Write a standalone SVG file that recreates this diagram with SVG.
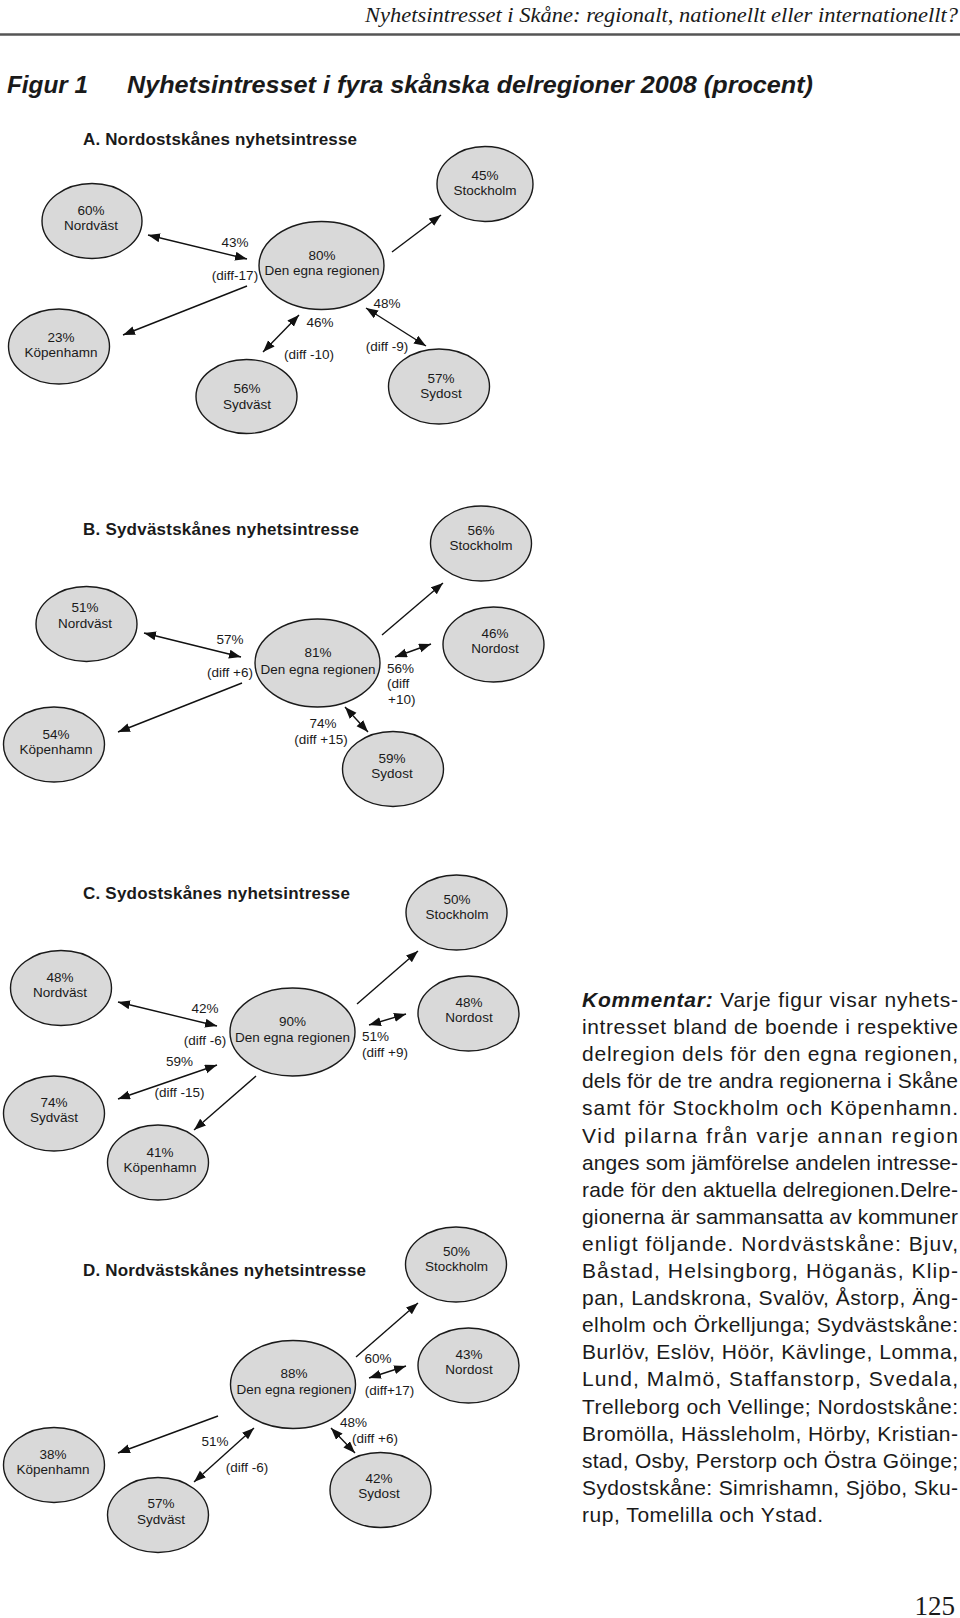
<svg xmlns="http://www.w3.org/2000/svg" width="960" height="1618" viewBox="0 0 960 1618">
<style>
.n{fill:#d9d9d9;stroke:#1a1a1a;stroke-width:1.4}
.t{font-family:"Liberation Sans",Arial,sans-serif;font-size:13.5px;fill:#1a1a1a;text-anchor:middle}
.ls{text-anchor:start}
.c{stroke:#111;stroke-width:1.4;fill:none}
.sec{font-family:"Liberation Sans",Arial,sans-serif;font-size:17px;font-weight:bold;fill:#1a1a1a}
.body{font-family:"Liberation Sans",Arial,sans-serif;font-size:21px;fill:#1a1a1a}
</style>
<defs>
<marker id="ah" markerUnits="userSpaceOnUse" markerWidth="13" markerHeight="10" refX="12" refY="4.5" orient="auto-start-reverse" viewBox="0 0 13 10">
<path d="M0,0 L12,4.5 L0,9 z" fill="#111"/>
</marker>
</defs>
<rect width="960" height="1618" fill="#fff"/>
<g id="header">
<text x="958" y="22" text-anchor="end" textLength="593" lengthAdjust="spacingAndGlyphs" style="font-family:'Liberation Serif','Times New Roman',serif;font-style:italic;font-size:22px;fill:#1a1a1a">Nyhetsintresset i Skåne: regionalt, nationellt eller internationellt?</text>
<line x1="0" y1="34.5" x2="960" y2="34.5" stroke="#555" stroke-width="2.5"/>
<text x="7" y="93" textLength="81" lengthAdjust="spacingAndGlyphs" style="font-family:'Liberation Sans',Arial,sans-serif;font-weight:bold;font-style:italic;font-size:24.5px;fill:#1a1a1a">Figur 1</text>
<text x="127" y="93" textLength="686" lengthAdjust="spacingAndGlyphs" style="font-family:'Liberation Sans',Arial,sans-serif;font-weight:bold;font-style:italic;font-size:24.5px;fill:#1a1a1a">Nyhetsintresset i fyra skånska delregioner 2008 (procent)</text>
</g>

<!-- Section A -->
<text class="sec" x="83" y="145" textLength="274">A. Nordostskånes nyhetsintresse</text>
<g id="A-connectors">
<line class="c" x1="148" y1="235" x2="247" y2="259" marker-start="url(#ah)" marker-end="url(#ah)"/>
<line class="c" x1="247" y1="286" x2="123" y2="335" marker-end="url(#ah)"/>
<line class="c" x1="392" y1="252" x2="441" y2="215" marker-end="url(#ah)"/>
<line class="c" x1="299" y1="315" x2="263" y2="352" marker-start="url(#ah)" marker-end="url(#ah)"/>
<line class="c" x1="366" y1="308" x2="426" y2="346" marker-start="url(#ah)" marker-end="url(#ah)"/>
<text class="t" x="235" y="247">43%</text>
<text class="t" x="235" y="280">(diff-17)</text>
<text class="t" x="320" y="327">46%</text>
<text class="t" x="309" y="359">(diff -10)</text>
<text class="t" x="387" y="308">48%</text>
<text class="t" x="387" y="351">(diff -9)</text>
</g>
<g id="A-nordvast"><ellipse class="n" cx="92" cy="221" rx="50" ry="37.5"/><text class="t" x="91" y="215">60%</text><text class="t" x="91" y="230">Nordväst</text></g>
<g id="A-stockholm"><ellipse class="n" cx="485" cy="184" rx="48" ry="37.5"/><text class="t" x="485" y="180">45%</text><text class="t" x="485" y="195">Stockholm</text></g>
<g id="A-egna"><ellipse class="n" cx="321.5" cy="265.5" rx="62.5" ry="44"/><text class="t" x="322" y="260">80%</text><text class="t" x="322" y="275">Den egna regionen</text></g>
<g id="A-kopenhamn"><ellipse class="n" cx="59" cy="346.5" rx="50.5" ry="37.5"/><text class="t" x="61" y="342">23%</text><text class="t" x="61" y="357">Köpenhamn</text></g>
<g id="A-sydvast"><ellipse class="n" cx="246.5" cy="396.5" rx="50.5" ry="37"/><text class="t" x="247" y="393">56%</text><text class="t" x="247" y="409">Sydväst</text></g>
<g id="A-sydost"><ellipse class="n" cx="439" cy="386.5" rx="50.5" ry="37.5"/><text class="t" x="441" y="383">57%</text><text class="t" x="441" y="398">Sydost</text></g>

<!-- Section B -->
<text class="sec" x="83" y="535" textLength="276">B. Sydvästskånes nyhetsintresse</text>
<g id="B-connectors">
<line class="c" x1="144" y1="633" x2="241" y2="657" marker-start="url(#ah)" marker-end="url(#ah)"/>
<line class="c" x1="242" y1="683" x2="118" y2="732" marker-end="url(#ah)"/>
<line class="c" x1="382" y1="635" x2="443" y2="583" marker-end="url(#ah)"/>
<line class="c" x1="395" y1="657" x2="431" y2="644" marker-start="url(#ah)" marker-end="url(#ah)"/>
<line class="c" x1="345" y1="707" x2="368" y2="732" marker-start="url(#ah)" marker-end="url(#ah)"/>
<text class="t" x="230" y="644">57%</text>
<text class="t" x="230" y="677">(diff +6)</text>
<text class="t ls" x="387" y="673">56%</text>
<text class="t ls" x="387" y="688">(diff</text>
<text class="t ls" x="388" y="704">+10)</text>
<text class="t" x="323" y="728">74%</text>
<text class="t" x="321" y="744">(diff +15)</text>
</g>
<g id="B-stockholm"><ellipse class="n" cx="481" cy="543.5" rx="50.5" ry="37.5"/><text class="t" x="481" y="535">56%</text><text class="t" x="481" y="550">Stockholm</text></g>
<g id="B-nordvast"><ellipse class="n" cx="86.5" cy="624" rx="50.5" ry="37.5"/><text class="t" x="85" y="612">51%</text><text class="t" x="85" y="628">Nordväst</text></g>
<g id="B-nordost"><ellipse class="n" cx="493.5" cy="644.5" rx="50.5" ry="37.5"/><text class="t" x="495" y="638">46%</text><text class="t" x="495" y="653">Nordost</text></g>
<g id="B-egna"><ellipse class="n" cx="317.5" cy="663" rx="62.5" ry="44"/><text class="t" x="318" y="657">81%</text><text class="t" x="318" y="674">Den egna regionen</text></g>
<g id="B-kopenhamn"><ellipse class="n" cx="54" cy="744.5" rx="50.5" ry="37.5"/><text class="t" x="56" y="739">54%</text><text class="t" x="56" y="754">Köpenhamn</text></g>
<g id="B-sydost"><ellipse class="n" cx="393" cy="769" rx="50.5" ry="37.5"/><text class="t" x="392" y="763">59%</text><text class="t" x="392" y="778">Sydost</text></g>

<!-- Section C -->
<text class="sec" x="83" y="899" textLength="267">C. Sydostskånes nyhetsintresse</text>
<g id="C-connectors">
<line class="c" x1="118" y1="1002" x2="217" y2="1026" marker-start="url(#ah)" marker-end="url(#ah)"/>
<line class="c" x1="118" y1="1099" x2="217" y2="1065" marker-start="url(#ah)" marker-end="url(#ah)"/>
<line class="c" x1="256" y1="1076" x2="194" y2="1130" marker-end="url(#ah)"/>
<line class="c" x1="357" y1="1004" x2="418" y2="951" marker-end="url(#ah)"/>
<line class="c" x1="369" y1="1025" x2="406" y2="1014" marker-start="url(#ah)" marker-end="url(#ah)"/>
<text class="t" x="205" y="1013">42%</text>
<text class="t" x="205" y="1045">(diff -6)</text>
<text class="t" x="179.5" y="1066">59%</text>
<text class="t" x="179.5" y="1097">(diff -15)</text>
<text class="t ls" x="362" y="1041">51%</text>
<text class="t ls" x="362" y="1057">(diff +9)</text>
</g>
<g id="C-stockholm"><ellipse class="n" cx="456.5" cy="912.5" rx="50.5" ry="37.5"/><text class="t" x="457" y="904">50%</text><text class="t" x="457" y="919">Stockholm</text></g>
<g id="C-nordvast"><ellipse class="n" cx="61" cy="988" rx="50.5" ry="37.5"/><text class="t" x="60" y="982">48%</text><text class="t" x="60" y="997">Nordväst</text></g>
<g id="C-nordost"><ellipse class="n" cx="468.5" cy="1013.5" rx="50.5" ry="37.5"/><text class="t" x="469" y="1007">48%</text><text class="t" x="469" y="1022">Nordost</text></g>
<g id="C-egna"><ellipse class="n" cx="292.5" cy="1032" rx="62.5" ry="44"/><text class="t" x="292.5" y="1026">90%</text><text class="t" x="292.5" y="1042">Den egna regionen</text></g>
<g id="C-sydvast"><ellipse class="n" cx="54" cy="1113.5" rx="50.5" ry="37.5"/><text class="t" x="54" y="1107">74%</text><text class="t" x="54" y="1122">Sydväst</text></g>
<g id="C-kopenhamn"><ellipse class="n" cx="158" cy="1162.5" rx="50.5" ry="37.5"/><text class="t" x="160" y="1157">41%</text><text class="t" x="160" y="1172">Köpenhamn</text></g>

<!-- Section D -->
<text class="sec" x="83" y="1276" textLength="283">D. Nordvästskånes nyhetsintresse</text>
<g id="D-connectors">
<line class="c" x1="356" y1="1357" x2="418" y2="1303" marker-end="url(#ah)"/>
<line class="c" x1="369" y1="1378" x2="406" y2="1366" marker-start="url(#ah)" marker-end="url(#ah)"/>
<line class="c" x1="218" y1="1416" x2="118" y2="1453" marker-end="url(#ah)"/>
<line class="c" x1="254" y1="1428" x2="194" y2="1482" marker-start="url(#ah)" marker-end="url(#ah)"/>
<line class="c" x1="331" y1="1428" x2="355" y2="1453" marker-start="url(#ah)" marker-end="url(#ah)"/>
<text class="t" x="378" y="1363">60%</text>
<text class="t" x="389.5" y="1395">(diff+17)</text>
<text class="t" x="353.5" y="1427">48%</text>
<text class="t" x="375" y="1443">(diff +6)</text>
<text class="t" x="215" y="1446">51%</text>
<text class="t" x="247" y="1472">(diff -6)</text>
</g>
<g id="D-stockholm"><ellipse class="n" cx="456" cy="1264.5" rx="50.5" ry="37.5"/><text class="t" x="456.5" y="1256">50%</text><text class="t" x="456.5" y="1271">Stockholm</text></g>
<g id="D-nordost"><ellipse class="n" cx="468.5" cy="1365.5" rx="50.5" ry="37.5"/><text class="t" x="469" y="1359">43%</text><text class="t" x="469" y="1374">Nordost</text></g>
<g id="D-egna"><ellipse class="n" cx="293" cy="1384.5" rx="62.5" ry="44"/><text class="t" x="294" y="1378">88%</text><text class="t" x="294" y="1394">Den egna regionen</text></g>
<g id="D-kopenhamn"><ellipse class="n" cx="54" cy="1465" rx="50.5" ry="37.5"/><text class="t" x="53" y="1459">38%</text><text class="t" x="53" y="1474">Köpenhamn</text></g>
<g id="D-sydvast"><ellipse class="n" cx="158" cy="1515" rx="50.5" ry="37.5"/><text class="t" x="161" y="1508">57%</text><text class="t" x="161" y="1524">Sydväst</text></g>
<g id="D-sydost"><ellipse class="n" cx="380.5" cy="1490" rx="50.5" ry="37.5"/><text class="t" x="379" y="1483">42%</text><text class="t" x="379" y="1498">Sydost</text></g>

<!-- Comment -->
<g id="kommentar" class="body">
<text x="582" y="1007" textLength="376" lengthAdjust="spacing"><tspan font-weight="bold" font-style="italic">Kommentar:</tspan> Varje figur visar nyhets-</text>
<text x="582" y="1034.1" textLength="376" lengthAdjust="spacing">intresset bland de boende i respektive</text>
<text x="582" y="1061.2" textLength="376" lengthAdjust="spacing">delregion dels för den egna regionen,</text>
<text x="582" y="1088.3" textLength="376" lengthAdjust="spacing">dels för de tre andra regionerna i Skåne</text>
<text x="582" y="1115.4" textLength="376" lengthAdjust="spacing">samt för Stockholm och Köpenhamn.</text>
<text x="582" y="1142.5" textLength="376" lengthAdjust="spacing">Vid pilarna från varje annan region</text>
<text x="582" y="1169.6" textLength="376" lengthAdjust="spacing">anges som jämförelse andelen intresse-</text>
<text x="582" y="1196.7" textLength="376" lengthAdjust="spacing">rade för den aktuella delregionen.Delre-</text>
<text x="582" y="1223.8" textLength="376" lengthAdjust="spacing">gionerna är sammansatta av kommuner</text>
<text x="582" y="1250.9" textLength="376" lengthAdjust="spacing">enligt följande. Nordvästskåne: Bjuv,</text>
<text x="582" y="1278" textLength="376" lengthAdjust="spacing">Båstad, Helsingborg, Höganäs, Klip-</text>
<text x="582" y="1305.1" textLength="376" lengthAdjust="spacing">pan, Landskrona, Svalöv, Åstorp, Äng-</text>
<text x="582" y="1332.2" textLength="376" lengthAdjust="spacing">elholm och Örkelljunga; Sydvästskåne:</text>
<text x="582" y="1359.3" textLength="376" lengthAdjust="spacing">Burlöv, Eslöv, Höör, Kävlinge, Lomma,</text>
<text x="582" y="1386.4" textLength="376" lengthAdjust="spacing">Lund, Malmö, Staffanstorp, Svedala,</text>
<text x="582" y="1413.5" textLength="376" lengthAdjust="spacing">Trelleborg och Vellinge; Nordostskåne:</text>
<text x="582" y="1440.6" textLength="376" lengthAdjust="spacing">Bromölla, Hässleholm, Hörby, Kristian-</text>
<text x="582" y="1467.7" textLength="376" lengthAdjust="spacing">stad, Osby, Perstorp och Östra Göinge;</text>
<text x="582" y="1494.8" textLength="376" lengthAdjust="spacing">Sydostskåne: Simrishamn, Sjöbo, Sku-</text>
<text x="582" y="1521.9" textLength="241" lengthAdjust="spacing">rup, Tomelilla och Ystad.</text>
</g>
<text x="955" y="1615" text-anchor="end" style="font-family:'Liberation Serif','Times New Roman',serif;font-size:27px;fill:#1a1a1a">125</text>
</svg>
